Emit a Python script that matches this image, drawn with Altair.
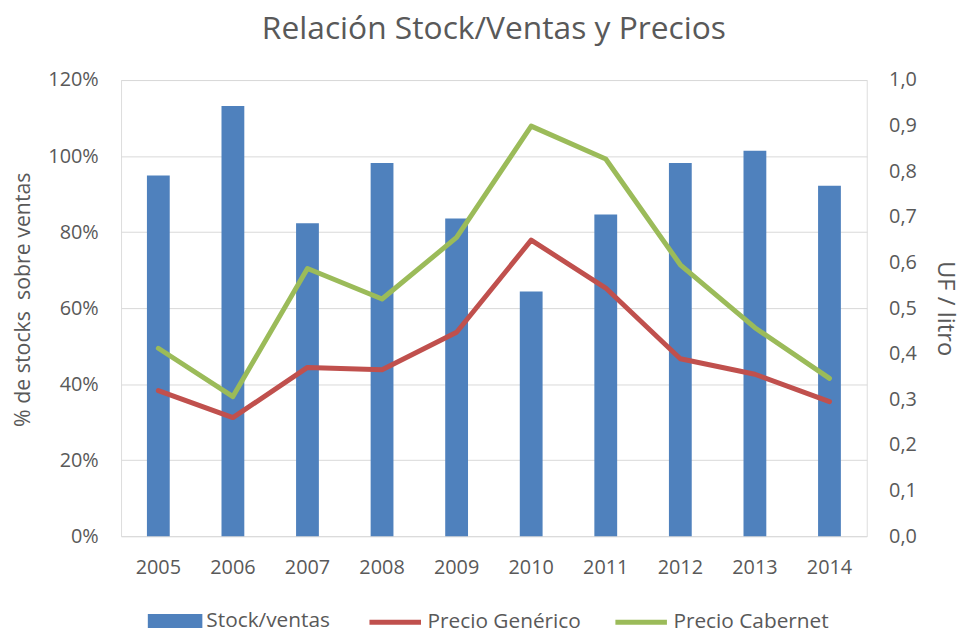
import altair as alt
import pandas as pd

years = ["2005", "2006", "2007", "2008", "2009", "2010", "2011", "2012", "2013", "2014"]
stock_ventas = [0.949, 1.132, 0.823, 0.982, 0.836, 0.644, 0.846, 0.982, 1.014, 0.922]
precio_generico = [0.319, 0.260, 0.370, 0.365, 0.447, 0.649, 0.544, 0.389, 0.355, 0.295]
precio_cabernet = [0.412, 0.306, 0.587, 0.520, 0.655, 0.899, 0.827, 0.595, 0.457, 0.346]

left_ticks = [0, 0.2, 0.4, 0.6, 0.8, 1.0, 1.2]
right_ticks = [0, 0.1, 0.2, 0.3, 0.4, 0.5, 0.6, 0.7, 0.8, 0.9, 1.0]

BLUE = "#4F81BD"
RED = "#C0504D"
GREEN = "#9BBB59"
GREY = "#595959"
FONT = "Open Sans"

bars_df = pd.DataFrame({"year": years, "value": stock_ventas, "serie": "Stock/ventas"})
lines_df = pd.concat([
    pd.DataFrame({"year": years, "value": precio_generico, "serie": "Precio Genérico"}),
    pd.DataFrame({"year": years, "value": precio_cabernet, "serie": "Precio Cabernet"}),
])

x_enc = alt.X("year:N", sort=years, title=None,
              scale=alt.Scale(paddingInner=0, paddingOuter=0),
              axis=alt.Axis(labelAngle=0, labelFontSize=20, labelColor=GREY,
                            labelPadding=22, domain=False, ticks=False))

bars = alt.Chart(bars_df).mark_bar(size=23).encode(
    x=x_enc,
    y=alt.Y("value:Q", scale=alt.Scale(domain=[0, 1.2], nice=False),
            title="% de stocks\u00a0 sobre ventas",
            axis=alt.Axis(values=left_ticks, format=".0%", orient="left",
                          labelFontSize=20, labelColor=GREY, labelPadding=23,
                          titleFontSize=21.5, titleColor=GREY, titleFontWeight="normal",
                          titlePadding=13, titleY=221, grid=True, gridColor="#D9D9D9",
                          domain=False, ticks=False)),
    fill=alt.Fill("serie:N",
                  scale=alt.Scale(domain=["Stock/ventas"], range=[BLUE]),
                  legend=alt.Legend(title=None, orient="none", direction="horizontal",
                                    legendX=27, legendY=518,
                                    symbolType="M-1,-0.26L1,-0.26L1,0.26L-1,0.26Z",
                                    symbolSize=3025, symbolStrokeWidth=0,
                                    labelFontSize=21, labelColor=GREY, labelOffset=4,
                                    labelLimit=400, labelFont=FONT, padding=0)),
)

lines = alt.Chart(lines_df).mark_line(strokeWidth=5, strokeJoin="round", strokeCap="round").encode(
    x=x_enc,
    y=alt.Y("value:Q", scale=alt.Scale(domain=[0, 1.0], nice=False),
            title="UF / litro",
            axis=alt.Axis(values=right_ticks, orient="right",
                          labelExpr="replace(format(datum.value, '.1f'), '.', ',')",
                          labelFontSize=20, labelColor=GREY, labelPadding=22,
                          titleFontSize=24, titleColor=GREY, titleFontWeight="normal",
                          titlePadding=16, grid=False, domain=False, ticks=False)),
    stroke=alt.Stroke("serie:N",
                      scale=alt.Scale(domain=["Precio Genérico", "Precio Cabernet"], range=[RED, GREEN]),
                      legend=alt.Legend(title=None, orient="none", direction="horizontal",
                                        legendX=248, legendY=518,
                                        symbolType="stroke", symbolSize=2700, symbolStrokeWidth=5,
                                        labelFontSize=21, labelColor=GREY, labelOffset=4,
                                        labelLimit=400, labelFont=FONT, columnPadding=24, padding=0)),
    detail="serie:N",
)

chart = alt.layer(bars, lines).resolve_scale(y="independent", fill="independent", stroke="independent").properties(
    width=752,
    height=460,
    padding={"left": 5, "right": 0, "top": 3, "bottom": 0},
    title=alt.TitleParams("Relación Stock/Ventas y Precios", fontSize=32, color=GREY,
                          fontWeight="normal", font=FONT, anchor="middle", offset=24),
).configure_view(stroke=None).configure(font=FONT)

chart.save("out.html", embed_options={"renderer": "svg", "actions": False})
